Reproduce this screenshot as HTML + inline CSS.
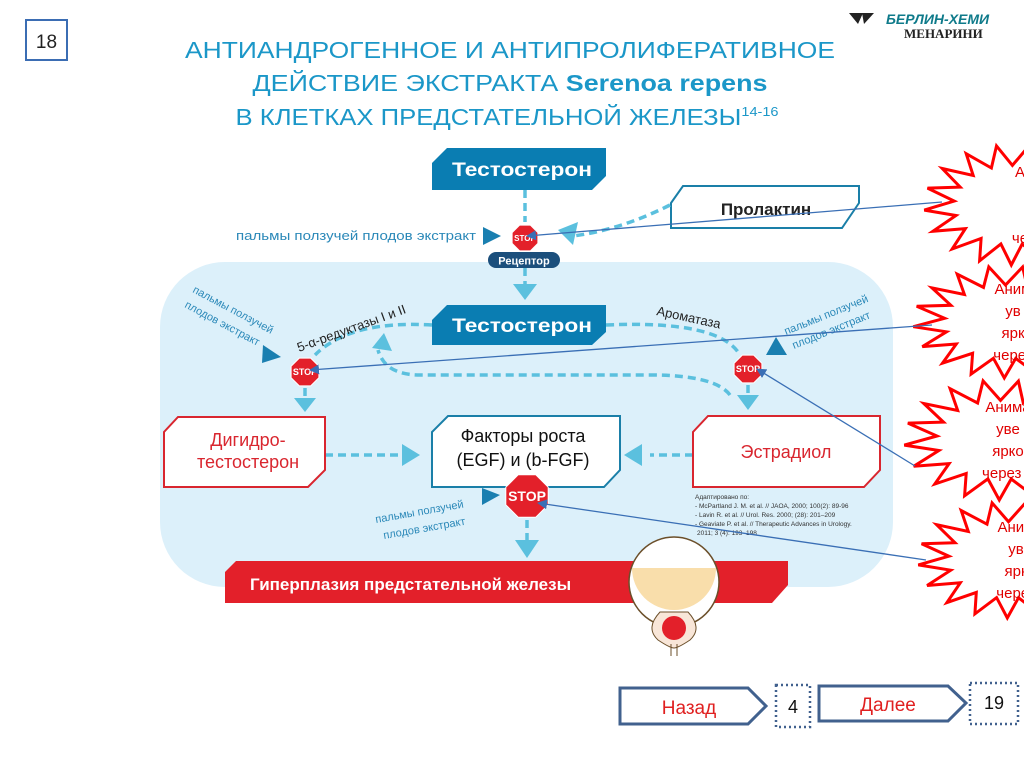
<!DOCTYPE html>
<html><head><meta charset="utf-8"><style>
body{margin:0;background:#fff;}
svg{display:block;font-family:"Liberation Sans",sans-serif;}
</style></head><body>
<svg id="s" width="1024" height="767" viewBox="0 0 1024 767" xmlns="http://www.w3.org/2000/svg">
<defs>
<marker id="ah" markerWidth="10" markerHeight="10" refX="9" refY="5" orient="auto" markerUnits="userSpaceOnUse"><path d="M0,0 L10,5 L0,10 z" fill="#3a6fb5"/></marker>
</defs>
<rect width="1024" height="767" fill="#fff"/>
<rect x="26" y="20" width="41" height="40" fill="#fff" stroke="#3b6db3" stroke-width="2"/>
<text x="46.5" y="48" font-size="19" text-anchor="middle" fill="#222">18</text>
<path d="M849,13 h14 l-5,11 z" fill="#222"/><path d="M862,13 h12 l-10,11 z" fill="#222"/>
<text x="886" y="24" font-size="14" font-weight="bold" font-style="italic" fill="#0e7a8a">БЕРЛИН-ХЕМИ</text>
<text x="904" y="38" font-size="13" font-family="Liberation Serif,serif" font-weight="bold" fill="#222">МЕНАРИНИ</text>
<g fill="#1b97c8" font-size="23" text-anchor="middle">
<text x="510" y="58" textLength="650" lengthAdjust="spacingAndGlyphs">АНТИАНДРОГЕННОЕ И АНТИПРОЛИФЕРАТИВНОЕ</text>
<text x="510" y="91" textLength="515" lengthAdjust="spacingAndGlyphs">ДЕЙСТВИЕ ЭКСТРАКТА <tspan font-weight="bold">Serenoa repens</tspan></text>
<text x="507" y="125" textLength="543" lengthAdjust="spacingAndGlyphs">В КЛЕТКАХ ПРЕДСТАТЕЛЬНОЙ ЖЕЛЕЗЫ<tspan font-size="13" dy="-9">14-16</tspan></text>
</g>
<rect x="160" y="262" width="733" height="325" rx="65" fill="#dcf0fa"/>
<path d="M447,148 H606 V176 L592,190 H432 V163 z" fill="#0a7db2"/>
<text x="522" y="176" font-size="19" font-weight="bold" fill="#fff" text-anchor="middle" textLength="140" lengthAdjust="spacingAndGlyphs">Тестостерон</text>
<path d="M683,186 H859 V203 L842,228 H671 V203 z" fill="#fff" stroke="#1a7fa8" stroke-width="2"/>
<text x="766" y="215" font-size="17" font-weight="bold" fill="#222" text-anchor="middle">Пролактин</text>
<g stroke="#5bc0de" stroke-width="3.5" stroke-dasharray="8,5" fill="none">
<path d="M525,190 V222"/><path d="M525,268 V290"/>
<path d="M670,205 Q620,230 573,236"/>
<path d="M432,325 Q350,320 315,355"/>
<path d="M606,325 Q720,320 740,355"/>
<path d="M730,395 Q715,375 650,375 H420 Q385,375 378,350"/>
<path d="M305,388 V400"/><path d="M748,385 V395"/>
<path d="M325,455 H403"/><path d="M693,455 H650"/>
<path d="M527,520 V540"/>
</g>
<g fill="#5bc0de">
<path d="M558,230 L578,222 L573,245 z"/>
<path d="M513,284 H537 L525,300 z"/>
<path d="M294,398 H316 L305,412 z"/>
<path d="M737,395 H759 L748,410 z"/>
<path d="M402,444 L420,455 L402,466 z"/>
<path d="M642,444 L624,455 L642,466 z"/>
<path d="M515,540 H539 L527,558 z"/>
<path d="M372,348 L384,333 L392,351 z"/>
</g>
<rect x="488" y="252" width="72" height="16" rx="8" fill="#1b4f7c"/>
<text x="524" y="264.5" font-size="11" font-weight="bold" fill="#fff" text-anchor="middle">Рецептор</text>
<text x="236" y="240" font-size="13" fill="#2a88b8" textLength="240" lengthAdjust="spacingAndGlyphs">пальмы ползучей плодов экстракт</text>
<path d="M483,227 L501,236 L483,245 z" fill="#1a7fb0"/>
<g fill="#2a88b8" font-size="11">
<text transform="translate(192,292) rotate(28)">пальмы ползучей</text>
<text transform="translate(184,307) rotate(28)">плодов экстракт</text>
<text transform="translate(786,335) rotate(-22)">пальмы ползучей</text>
<text transform="translate(794,349) rotate(-22)">плодов экстракт</text>
<text transform="translate(376,523) rotate(-10)">пальмы ползучей</text>
<text transform="translate(384,539) rotate(-10)">плодов экстракт</text>
</g>
<path d="M263,345 L281,357 L262,363 z" fill="#1a7fb0"/>
<path d="M776,337 L787,355 L766,355 z" fill="#1a7fb0"/>
<path d="M482,488 L500,495 L482,505 z" fill="#1a7fb0"/>
<text transform="translate(299,352) rotate(-20)" font-size="13" fill="#222">5-α-редуктазы I и II</text>
<text transform="translate(656,315) rotate(12)" font-size="13" fill="#222">Ароматаза</text>
<path d="M447,305 H606 V332 L592,345 H432 V320 z" fill="#0a7db2"/>
<text x="522" y="332" font-size="19" font-weight="bold" fill="#fff" text-anchor="middle" textLength="140" lengthAdjust="spacingAndGlyphs">Тестостерон</text>
<path d="M178,417 H325 V470 L308,487 H164 V432 z" fill="#fff" stroke="#d9262f" stroke-width="2"/>
<text x="248" y="446" font-size="18" fill="#d9262f" text-anchor="middle">Дигидро-</text>
<text x="248" y="468" font-size="18" fill="#d9262f" text-anchor="middle">тестостерон</text>
<path d="M448,416 H620 V470 L604,487 H432 V432 z" fill="#fff" stroke="#1a7fa8" stroke-width="2"/>
<text x="523" y="442" font-size="18" fill="#111" text-anchor="middle">Факторы роста</text>
<text x="523" y="466" font-size="18" fill="#111" text-anchor="middle">(EGF) и (b-FGF)</text>
<path d="M708,416 H880 V470 L864,487 H693 V432 z" fill="#fff" stroke="#d9262f" stroke-width="2"/>
<text x="786" y="458" font-size="18" fill="#d9262f" text-anchor="middle">Эстрадиол</text>
<g font-size="6.5" fill="#333">
<text x="695" y="499">Адаптировано по:</text>
<text x="695" y="508">- McPartland J. M. et al. // JAOA, 2000; 100(2): 89-96</text>
<text x="695" y="517">- Lavin R. et al. // Urol. Res. 2000; (28): 201–209</text>
<text x="695" y="526">- Geaviate P. et al. // Therapeutic Advances in Urology.</text>
<text x="697" y="535">2011; 3 (4): 193–198</text>
</g>
<path d="M236,561 H788 V585 L772,603 H225 V572 z" fill="#e3202a"/>
<text x="250" y="590" font-size="17" font-weight="bold" fill="#fff">Гиперплазия предстательной железы</text>
<!-- bladder -->
<circle cx="674" cy="582" r="45" fill="#fff" stroke="#6b4f2a" stroke-width="1.5"/>
<path d="M632,568 H716 A42,42 0 0 1 632,568 z" fill="#f9deab"/>
<path d="M660,612 Q645,628 658,640 Q670,648 674,648 Q678,648 690,640 Q703,628 688,612 z" fill="#f8e6d8" stroke="#6b4f2a"/>
<circle cx="674" cy="628" r="12" fill="#e3202a"/>
<path d="M671,644 V656 M677,644 V656" stroke="#6b4f2a"/>
<g id="stops"></g>
<g id="stars"></g>
<g stroke="#3a6fb5" stroke-width="1.3" fill="none" marker-end="url(#ah)">
<path d="M942,202 L527,236"/>
<path d="M932,325 L310,370"/>
<path d="M915,466 L757,369"/>
<path d="M926,560 L538,503"/>
</g>
<path d="M620,688 H748 L766,706 L748,724 H620 z" fill="#fff" stroke="#41618e" stroke-width="3"/>
<text x="689" y="714" font-size="19" fill="#e02020" text-anchor="middle">Назад</text>
<rect x="776" y="685" width="34" height="42" fill="none" stroke="#41618e" stroke-width="2.5" stroke-dasharray="2,3"/>
<text x="793" y="713" font-size="18" fill="#111" text-anchor="middle">4</text>
<path d="M819,686 H948 L966,703 L948,721 H819 z" fill="#fff" stroke="#41618e" stroke-width="3"/>
<text x="888" y="711" font-size="19" fill="#e02020" text-anchor="middle">Далее</text>
<rect x="970" y="683" width="48" height="41" fill="none" stroke="#41618e" stroke-width="2.5" stroke-dasharray="2,3"/>
<text x="994" y="709" font-size="18" fill="#111" text-anchor="middle">19</text>
</svg>
<script>
var NS="http://www.w3.org/2000/svg";
function el(t,a,p){var e=document.createElementNS(NS,t);for(var k in a)e.setAttribute(k,a[k]);p.appendChild(e);return e;}
var sg=document.getElementById("stops");
[[525,238,14,8],[305,372,15,9],[748,369,15,9],[527,496,23,14]].forEach(function(s){
 var pts=[];for(var i=0;i<8;i++){var a=Math.PI/8+i*Math.PI/4;pts.push((s[0]+s[2]*Math.cos(a)).toFixed(1)+","+(s[1]+s[2]*Math.sin(a)).toFixed(1));}
 el("polygon",{points:pts.join(" "),fill:"#e3202a",stroke:"#fff","stroke-width":1},sg);
 var t=el("text",{x:s[0],y:s[1]+s[3]*0.36,"font-size":s[3],"font-weight":"bold",fill:"#fff","text-anchor":"middle"},sg);t.textContent="STOP";
});
var st=document.getElementById("stars");
[[1012,205,88,60,["А","","","че"]],[1005,322,92,56,["Аним","ув","ярк","через"]],[1000,440,96,60,["Анима","уве","ярко","через 3"]],[1008,560,90,58,["Аним","ув","ярк","через"]]].forEach(function(s){
 var pts=[],n=17;for(var i=0;i<n*2;i++){var a=i*Math.PI/n+0.1;var f=(i%2==0)?1:0.66;pts.push((s[0]+s[2]*f*Math.cos(a)).toFixed(1)+","+(s[1]+s[3]*f*Math.sin(a)).toFixed(1));}
 el("polygon",{points:pts.join(" "),fill:"#fff",stroke:"#ff0000","stroke-width":3},st);
 s[4].forEach(function(w,i){var t=el("text",{x:s[0]+8,y:s[1]-28+i*22,"font-size":15,fill:"#e00000","text-anchor":"middle"},st);t.textContent=w;});
});
</script>
</body></html>
